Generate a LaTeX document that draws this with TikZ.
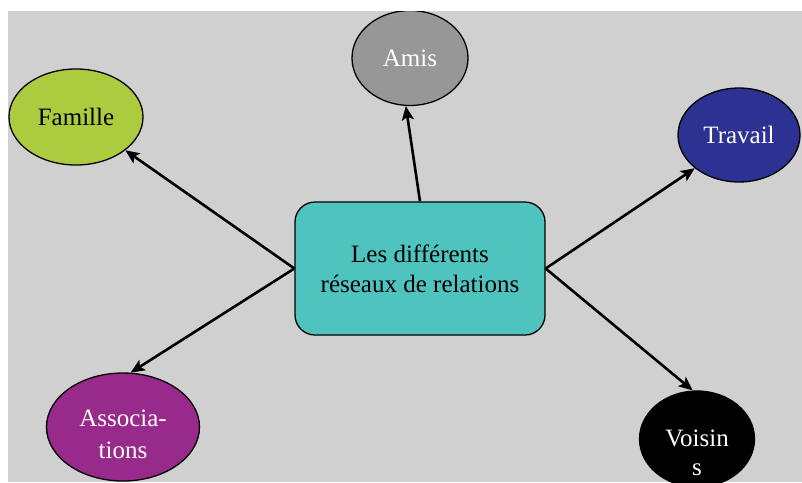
\documentclass[tikz,border=0pt]{standalone}
\usepackage{fontspec}
\setmainfont{Liberation Serif}
\usetikzlibrary{shapes.geometric,arrows.meta}
\definecolor{bggray}{RGB}{208,208,208}
\definecolor{famcol}{RGB}{173,203,63}
\definecolor{amiscol}{RGB}{151,151,151}
\definecolor{travcol}{RGB}{45,49,146}
\definecolor{assoccol}{RGB}{152,42,140}
\definecolor{boxcol}{RGB}{79,196,191}
\tikzset{
  bubble/.style={ellipse, draw=black, line width=1.3pt, inner sep=0pt, align=center,
    font=\fontsize{25}{31}\selectfont},
  centrebox/.style={rectangle, rounded corners=20pt, draw=black, line width=1.3pt,
    fill=boxcol, minimum width=250pt, minimum height=133pt, align=center,
    font=\fontsize{25}{30}\selectfont},
  link/.style={line width=2.6pt, -{Stealth[length=14pt,width=12pt,inset=3pt]}},
  lbl/.style={inner sep=0pt, align=center, font=\fontsize{25}{30}\selectfont}
}
\begin{document}
\begin{tikzpicture}[x=1pt,y=-1pt]
\useasboundingbox (0,0) rectangle (802,482);
\fill[bggray] (8,11) rectangle (802,482);
\begin{scope}
\clip (8,11) rectangle (802,482);
\node[bubble, fill=famcol, minimum width=134pt, minimum height=96pt] (fam) at (76,117) {Famille};
\node[bubble, fill=amiscol, text=white, minimum width=116pt, minimum height=95pt] (amis) at (410,58) {Amis};
\node[bubble, fill=travcol, text=white, minimum width=122pt, minimum height=94pt] (trav) at (739,135) {Travail};
\node[bubble, fill=assoccol, text=white, minimum width=153pt, minimum height=108pt] (assoc) at (123,427) {};
\node[lbl, text=white, font=\fontsize{25}{32}\selectfont] (assoctxt) at (123,434) {Associa-\\tions};
\node[bubble, fill=black, minimum width=115pt, minimum height=96pt] (vois) at (697,439) {};
\node[lbl, text=white, font=\fontsize{25}{29}\selectfont] (voistxt) at (697,453) {Voisin\\s};
\end{scope}
\node[centrebox] (centre) at (420,268.5) {Les différents\\réseaux de relations};
\draw[link] (centre.west) -- (fam.-34);
\draw[link] (centre.west) -- (assoc.82);
\draw[link] (centre.north) -- (amis.-95);
\draw[link] (centre.east) -- (trav.-143);
\draw[link] (centre.east) -- (vois.95);
\end{tikzpicture}
\end{document}
